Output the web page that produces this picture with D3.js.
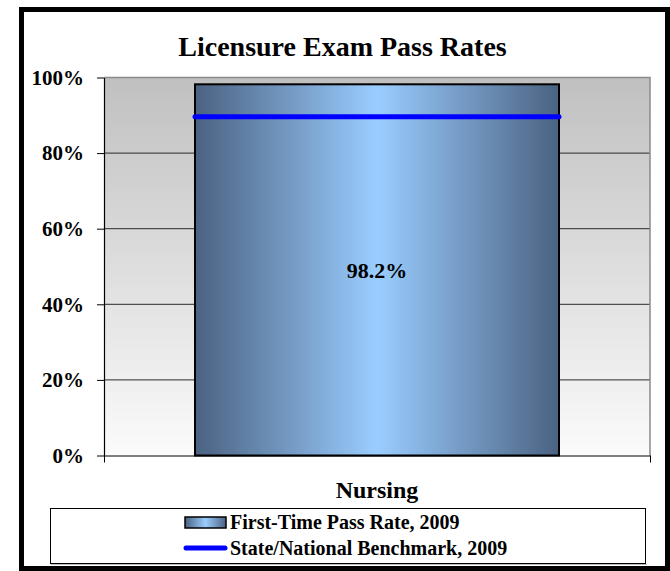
<!DOCTYPE html>
<html>
<head>
<meta charset="utf-8">
<script src="https://cdn.jsdelivr.net/npm/d3@7"></script>
<style>
  html, body { margin: 0; padding: 0; background: #fff; }
  svg text { font-family: "Liberation Serif", "Times New Roman", serif; font-weight: bold; fill: #000; }
</style>
</head>
<body>
<svg id="chart"></svg>
<script>
'use strict';

// chart values
const categories = ['Nursing'];
const passRates = [0.982];
const benchmarks = [0.896];
const yTicks = [0, 0.2, 0.4, 0.6, 0.8, 1];
const seriesNames = ['First-Time Pass Rate, 2009', 'State/National Benchmark, 2009'];

const W = 670, H = 571;
const FONT = '"Liberation Serif", "Times New Roman", serif';
const plot = { left: 104, right: 650, top: 77.5, bottom: 455.5 };

const svg = d3.select('#chart').attr('width', W).attr('height', H)
  .attr('font-family', FONT);
const defs = svg.append('defs');

// gray wall, dark at top fading to near white
const wall = defs.append('linearGradient').attr('id', 'wall')
  .attr('x1', 0).attr('y1', 0).attr('x2', 0).attr('y2', 1);
wall.append('stop').attr('offset', '0%').attr('stop-color', '#c0c0c0');
wall.append('stop').attr('offset', '100%').attr('stop-color', '#fbfbfb');

// bar shading, dark edges, light blue centre
const barFill = defs.append('linearGradient').attr('id', 'barFill')
  .attr('x1', 0).attr('y1', 0).attr('x2', 1).attr('y2', 0);
barFill.append('stop').attr('offset', '0%').attr('stop-color', '#4b6282');
barFill.append('stop').attr('offset', '50%').attr('stop-color', '#9acdff');
barFill.append('stop').attr('offset', '100%').attr('stop-color', '#4b6282');

// outer frame
svg.append('rect').attr('x', 21.5).attr('y', 9.5).attr('width', 646).attr('height', 559)
  .attr('fill', '#fff').attr('stroke', '#000').attr('stroke-width', 5);

// title
svg.append('text').attr('x', 342.5).attr('y', 56).attr('text-anchor', 'middle')
  .style('font-size', '28px').text('Licensure Exam Pass Rates');

const x = d3.scaleBand().domain(categories).range([plot.left, plot.right])
  .paddingInner(0).paddingOuter(0.25);
const y = d3.scaleLinear().domain([0, 1]).range([plot.bottom, plot.top]);

// plot area
svg.append('rect').attr('x', plot.left).attr('y', plot.top)
  .attr('width', plot.right - plot.left).attr('height', plot.bottom - plot.top)
  .attr('fill', 'url(#wall)');

// gridlines
svg.append('g').selectAll('line').data(yTicks.filter(d => d > 0 && d < 1)).join('line')
  .attr('x1', plot.left).attr('x2', plot.right)
  .attr('y1', d => y(d)).attr('y2', d => y(d))
  .attr('stroke', '#2a2a2a').attr('stroke-width', 1);

// top / right border of the wall
svg.append('path')
  .attr('d', `M${plot.left},${plot.top} H${plot.right} V${plot.bottom}`)
  .attr('fill', 'none').attr('stroke', '#8a8a8a').attr('stroke-width', 1.5);

// bars
svg.append('g').selectAll('rect').data(categories).join('rect')
  .attr('x', d => x(d)).attr('width', x.bandwidth())
  .attr('y', (d, i) => y(passRates[i]))
  .attr('height', (d, i) => y(0) - y(passRates[i]))
  .attr('fill', 'url(#barFill)').attr('stroke', '#000').attr('stroke-width', 2);

// value labels
svg.append('g').selectAll('text').data(categories).join('text')
  .attr('x', d => x(d) + x.bandwidth() / 2)
  .attr('y', (d, i) => (y(passRates[i]) + y(0)) / 2)
  .attr('dy', '0.35em').attr('text-anchor', 'middle')
  .style('font-size', '22px')
  .text((d, i) => d3.format('.1%')(passRates[i]));

// benchmark line
svg.append('g').selectAll('line').data(categories).join('line')
  .attr('x1', d => x(d)).attr('x2', d => x(d) + x.bandwidth())
  .attr('y1', (d, i) => y(benchmarks[i])).attr('y2', (d, i) => y(benchmarks[i]))
  .attr('stroke', '#0000ff').attr('stroke-width', 5).attr('stroke-linecap', 'round');

// y axis
const yAxis = svg.append('g').attr('transform', `translate(${plot.left},0)`)
  .call(d3.axisLeft(y).tickValues(yTicks).tickFormat(d3.format('.0%'))
    .tickSize(7).tickSizeOuter(0).tickPadding(13));
yAxis.attr('font-family', FONT).attr('font-size', 21);
yAxis.select('.domain').attr('stroke', '#000').attr('stroke-width', 1.2);
yAxis.selectAll('.tick line').attr('stroke', '#000');
yAxis.selectAll('text').style('font-size', '21px').attr('fill', '#000');

// x axis (category boundaries)
const xEdge = d3.scaleLinear().domain([0, categories.length]).range([plot.left, plot.right]);
const xAxis = svg.append('g').attr('transform', `translate(0,${plot.bottom})`)
  .call(d3.axisBottom(xEdge).tickValues(d3.range(categories.length + 1))
    .tickFormat('').tickSize(7).tickSizeOuter(0));
xAxis.select('.domain').attr('stroke', '#000').attr('stroke-width', 1.2);
xAxis.selectAll('.tick line').attr('stroke', '#000');

svg.append('g').selectAll('text').data(categories).join('text')
  .attr('x', d => x(d) + x.bandwidth() / 2).attr('y', 498)
  .attr('text-anchor', 'middle').style('font-size', '24px').text(d => d);

// legend
svg.append('line').attr('x1', 51).attr('x2', 647).attr('y1', 564.5).attr('y2', 564.5)
  .attr('stroke', '#bbb').attr('stroke-width', 1);
svg.append('rect').attr('x', 50.5).attr('y', 508.5).attr('width', 595).attr('height', 55)
  .attr('fill', '#fff').attr('stroke', '#000').attr('stroke-width', 1);

const legend = svg.append('g');
legend.append('rect').attr('x', 185).attr('y', 517).attr('width', 41).attr('height', 11)
  .attr('fill', 'url(#barFill)').attr('stroke', '#000').attr('stroke-width', 1.5);
legend.append('line').attr('x1', 186).attr('x2', 225).attr('y1', 548).attr('y2', 548)
  .attr('stroke', '#0000ff').attr('stroke-width', 5).attr('stroke-linecap', 'round');
legend.selectAll('text').data(seriesNames).join('text')
  .attr('x', 230).attr('y', (d, i) => 529 + i * 26)
  .style('font-size', '20px').text(d => d);
</script>
</body>
</html>
